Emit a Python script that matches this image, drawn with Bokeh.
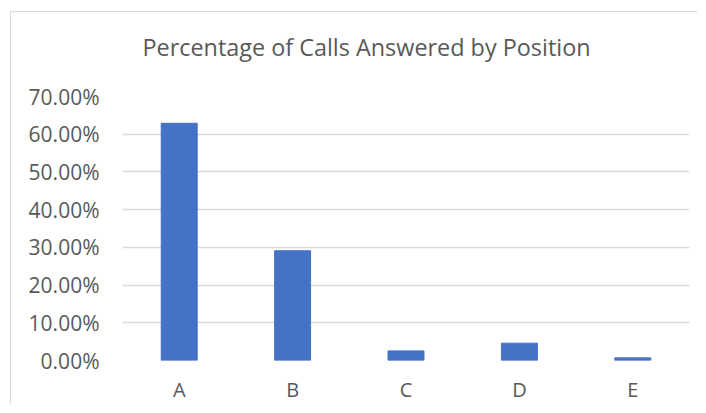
from bokeh.plotting import figure
from bokeh.models import NumeralTickFormatter, FixedTicker, Range1d, Title
from bokeh.embed import file_html
from bokeh.resources import INLINE

positions = ["A", "B", "C", "D", "E"]
share = [0.629, 0.291, 0.0255, 0.046, 0.007]
y_ticks = [0.0, 0.1, 0.2, 0.3, 0.4, 0.5, 0.6, 0.7]
title_text = "Percentage of Calls Answered by Position"

FONT = "Open Sans"
GRID = "#d9d9d9"
TEXT = "#595959"

p = figure(x_range=positions, width=687, height=393, output_backend="svg",
           toolbar_location=None, min_border_left=111, min_border_right=9,
           min_border_top=84, min_border_bottom=45)
p.y_range = Range1d(0, 0.7)

p.vbar(x=positions, top=share, width=0.317, color="#4472C4")

p.title.text = title_text
p.title.align = "left"
p.title.offset = 20
p.title.standoff = 10
p.title.text_font = FONT
p.title.text_font_size = "23.4px"
p.title.text_font_style = "normal"
p.title.text_color = TEXT

spacer = Title(text=" ", text_font=FONT, text_font_size="20px", standoff=0,
               text_color="#ffffff")
p.add_layout(spacer, "above")

p.outline_line_color = None
p.xgrid.grid_line_color = None
p.ygrid.grid_line_color = GRID
p.ygrid.grid_line_width = 1.3

p.yaxis.ticker = FixedTicker(ticks=y_ticks)
p.yaxis.formatter = NumeralTickFormatter(format="0.00%")
for ax in (p.xaxis, p.yaxis):
    ax.axis_line_color = None
    ax.major_tick_line_color = None
    ax.minor_tick_line_color = None
    ax.major_tick_out = 0
    ax.major_label_text_font = FONT
    ax.major_label_text_color = TEXT
p.yaxis.major_label_text_font_size = "21px"
p.xaxis.major_label_text_font_size = "20px"
p.yaxis.major_label_standoff = 23
p.xaxis.major_label_standoff = 15
p.x_range.range_padding = 0

p.styles = {"box-shadow": "-1px -1px 0 0 #d9d9d9",
            "margin-left": "11px", "margin-top": "12px"}

open("out.html", "w").write(file_html(p, INLINE))
